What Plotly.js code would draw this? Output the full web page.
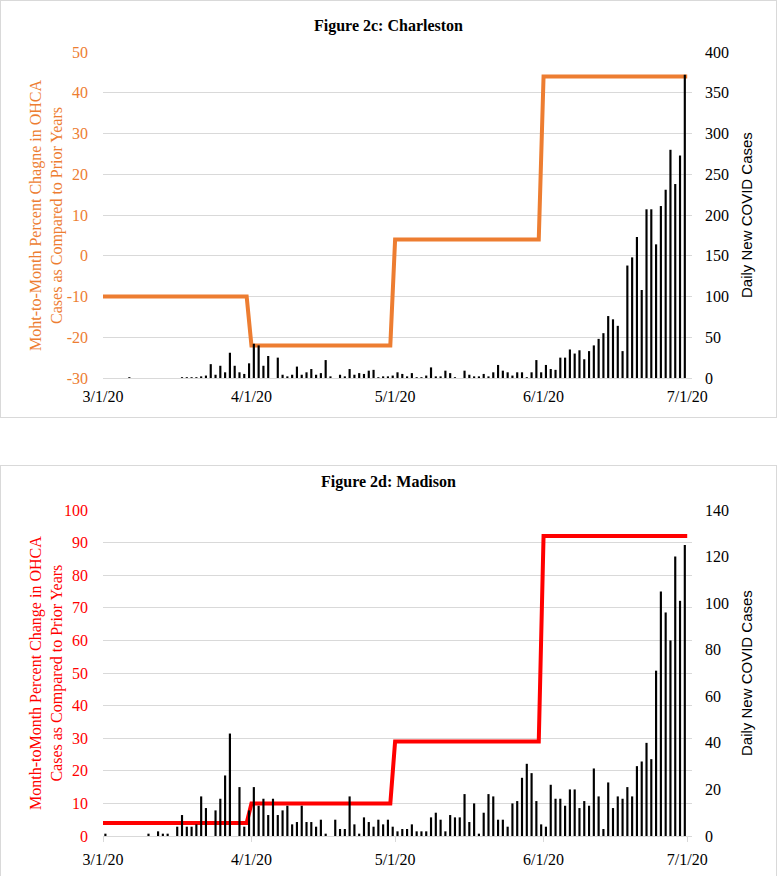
<!DOCTYPE html>
<html>
<head>
<meta charset="utf-8">
<script src="https://cdn.plot.ly/plotly-3.0.1.min.js"></script>
<style>
  body { margin: 0; background: #fff; overflow: hidden; }
  .frame { position: absolute; left: 0; width: 775px; border: 1px solid #d9d9d9; background: #fff; }
  #c1 { top: 0; height: 416px; }
  #c2 { top: 465px; height: 420px; }
</style>
</head>
<body>
<div id="c1" class="frame"></div>
<div id="c2" class="frame"></div>
<script>
// Step lines: month-to-month percent change in OHCA cases
const lineDates = ['2020-03-01', '2020-03-31', '2020-04-01', '2020-04-30', '2020-05-01', '2020-05-31', '2020-06-01', '2020-07-01'];
const charlestonPct = [-10, -10, -22, -22, 4, 4, 44, 44];
const madisonPct = [4, 4, 10, 10, 29, 29, 92, 92];

// Daily new COVID cases, one value per day starting 3/1/20
const firstDay = '2020-03-01';
const charlestonCases = [
  0, 0, 0, 0, 0, 1, 0, 0, 0, 0, 0, 0, 0, 0, 0, 0, 1, 1, 1, 1,
  2, 3, 17, 4, 15, 7, 31, 15, 7, 5, 18, 42, 40, 15, 27, 0, 25, 4, 2, 4,
  14, 4, 7, 11, 4, 6, 22, 2, 0, 4, 2, 11, 4, 6, 5, 9, 10, 1, 2, 2,
  3, 7, 5, 2, 6, 1, 1, 3, 13, 2, 2, 9, 6, 1, 0, 9, 4, 2, 2, 5,
  2, 7, 16, 9, 7, 3, 7, 7, 1, 7, 22, 7, 16, 11, 10, 25, 25, 35, 30, 34,
  23, 33, 40, 48, 55, 76, 72, 64, 33, 138, 148, 173, 108, 207, 207, 164, 211, 231, 280, 238,
  273, 372
];
const madisonCases = [
  1, 0, 0, 0, 0, 0, 0, 0, 0, 1, 0, 2, 1, 1, 0, 4, 9, 4, 4, 5,
  17, 12, 0, 11, 16, 26, 44, 0, 21, 4, 11, 21, 13, 16, 9, 16, 9, 11, 13, 5,
  6, 13, 6, 6, 4, 7, 1, 0, 7, 3, 3, 17, 5, 1, 8, 6, 4, 7, 5, 7,
  4, 2, 3, 3, 5, 2, 2, 2, 8, 10, 7, 2, 9, 8, 8, 18, 6, 14, 1, 10,
  18, 17, 7, 7, 4, 14, 15, 25, 31, 27, 15, 5, 4, 22, 16, 16, 13, 20, 20, 12,
  15, 13, 29, 17, 3, 23, 12, 17, 16, 21, 17, 30, 32, 40, 33, 71, 105, 96, 84, 120,
  101, 125
];

// tick values
const tickDates = ['2020-03-01', '2020-04-01', '2020-05-01', '2020-06-01', '2020-07-01'];
const tickLabels = ['3/1/20', '4/1/20', '5/1/20', '6/1/20', '7/1/20'];
const charlestonPctTicks = [-30, -20, -10, 0, 10, 20, 30, 40, 50];
const madisonPctTicks = [0, 10, 20, 30, 40, 50, 60, 70, 80, 90, 100];

const DAY = 86400000;
function dayList(start, n) {
  const d0 = new Date(start + 'T00:00:00Z').getTime();
  const out = [];
  for (let i = 0; i < n; i++) {
    out.push(new Date(d0 + i * DAY).toISOString().slice(0, 10));
  }
  return out;
}

const serif = '"Liberation Serif", "Times New Roman", serif';
const sans = '"Liberation Sans", Arial, sans-serif';
const grid = '#d9d9d9';
const plotW = 589;

function makeChart(div, opts) {
  const bars = {
    x: dayList(firstDay, opts.cases.length),
    y: opts.cases,
    type: 'bar',
    yaxis: 'y2',
    xperiod: DAY,
    xperiodalignment: 'middle',
    width: 0.45 * DAY,
    marker: { color: '#000000' },
    hoverinfo: 'skip'
  };
  const line = {
    x: lineDates,
    y: opts.pct,
    type: 'scatter',
    mode: 'lines',
    line: { color: opts.color, width: 4 },
    hoverinfo: 'skip'
  };

  const layout = {
    width: 775,
    height: opts.height,
    margin: { l: 102, r: 84, t: opts.top, b: opts.height - opts.top - 326 },
    paper_bgcolor: '#ffffff',
    plot_bgcolor: '#ffffff',
    showlegend: false,
    title: {
      text: opts.title,
      font: { family: serif, size: 16, color: '#000000', weight: 'bold' },
      x: 0.5,
      xanchor: 'center',
      yref: 'container',
      y: 1 - opts.titleY / opts.height,
      yanchor: 'middle'
    },
    xaxis: {
      type: 'date',
      range: ['2020-03-01', '2020-07-02'],
      tickmode: 'array',
      tickvals: tickDates,
      ticktext: tickLabels,
      tickfont: { family: serif, size: 16, color: '#000000' },
      ticks: opts.xticks ? 'outside' : '',
      ticklen: 5,
      tickcolor: grid,
      ticklabelstandoff: 4,
      showgrid: false,
      showline: true,
      linecolor: grid,
      linewidth: 1,
      zeroline: false
    },
    yaxis: {
      range: opts.yRange,
      tickmode: 'array',
      tickvals: opts.yTicks,
      ticktext: opts.yTicks.map(String),
      tickfont: { family: serif, size: 16, color: opts.color },
      ticklabelstandoff: 14,
      showgrid: true,
      gridcolor: grid,
      gridwidth: 1,
      zeroline: false,
      showline: false
    },
    yaxis2: {
      range: opts.y2Range,
      dtick: opts.y2Dtick,
      overlaying: 'y',
      side: 'right',
      tickfont: { family: serif, size: 16, color: '#000000' },
      ticklabelstandoff: 12,
      showgrid: false,
      zeroline: false,
      showline: false
    },
    annotations: [
      {
        text: opts.yTitle,
        xref: 'paper', yref: 'paper',
        x: (45 - 102) / plotW, y: 0.5,
        xanchor: 'center', yanchor: 'middle',
        textangle: -90,
        showarrow: false,
        font: { family: serif, size: 16, color: opts.color }
      },
      {
        text: 'Daily New COVID Cases',
        xref: 'paper', yref: 'paper',
        x: (745 - 102) / plotW, y: 0.5,
        xanchor: 'center', yanchor: 'middle',
        textangle: -90,
        showarrow: false,
        font: { family: sans, size: 15, color: '#000000' }
      }
    ]
  };

  Plotly.newPlot(div, [bars, line], layout, { displayModeBar: false, staticPlot: true });
}

makeChart('c1', {
  title: 'Figure 2c: Charleston',
  titleY: 24,
  height: 416,
  top: 51,
  cases: charlestonCases,
  pct: charlestonPct,
  color: '#ED7D31',
  yRange: [-30, 50],
  yTicks: charlestonPctTicks,
  y2Range: [0, 400],
  y2Dtick: 50,
  yTitle: 'Moht-to-Month Percent Chagne in OHCA<br>Cases as Compared to Prior Years',
  xticks: false
});

makeChart('c2', {
  title: 'Figure 2d: Madison',
  titleY: 15,
  height: 420,
  top: 44,
  cases: madisonCases,
  pct: madisonPct,
  color: '#FF0000',
  yRange: [0, 100],
  yTicks: madisonPctTicks,
  y2Range: [0, 140],
  y2Dtick: 20,
  yTitle: 'Month-toMonth Percent Change in OHCA<br>Cases as Compared to Prior Years',
  xticks: true
});
</script>
</body>
</html>
